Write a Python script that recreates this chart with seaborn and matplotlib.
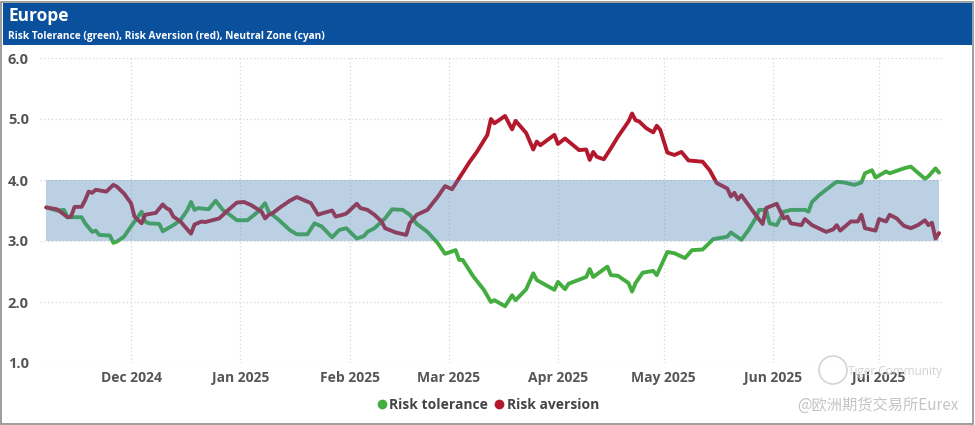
# Europe risk appetite chart: risk tolerance vs risk aversion with neutral zone
import pandas as pd
import numpy as np
import matplotlib
matplotlib.use('Agg')
import matplotlib.pyplot as plt
import matplotlib.dates as mdates
from matplotlib.patches import Rectangle, Circle
from matplotlib.lines import Line2D
import seaborn as sns

# Risk tolerance (green)
tol_dates = ['2024-11-07', '2024-11-10', '2024-11-12', '2024-11-13', '2024-11-17', '2024-11-18',
             '2024-11-20', '2024-11-21', '2024-11-22', '2024-11-25', '2024-11-26', '2024-11-27',
             '2024-11-29', '2024-12-01', '2024-12-03', '2024-12-04', '2024-12-05', '2024-12-06',
             '2024-12-09', '2024-12-10', '2024-12-13', '2024-12-15', '2024-12-17', '2024-12-18',
             '2024-12-19', '2024-12-20', '2024-12-23', '2024-12-25', '2024-12-27', '2024-12-29',
             '2024-12-31', '2025-01-03', '2025-01-06', '2025-01-08', '2025-01-09', '2025-01-12',
             '2025-01-15', '2025-01-17', '2025-01-20', '2025-01-22', '2025-01-24', '2025-01-27',
             '2025-01-29', '2025-01-31', '2025-02-03', '2025-02-05', '2025-02-06', '2025-02-08',
             '2025-02-11', '2025-02-13', '2025-02-16', '2025-02-18', '2025-02-20', '2025-02-23',
             '2025-02-26', '2025-02-28', '2025-03-03', '2025-03-04', '2025-03-05', '2025-03-08',
             '2025-03-11', '2025-03-13', '2025-03-14', '2025-03-17', '2025-03-19', '2025-03-20',
             '2025-03-23', '2025-03-25', '2025-03-26', '2025-03-31', '2025-04-01', '2025-04-03',
             '2025-04-04', '2025-04-09', '2025-04-10', '2025-04-11', '2025-04-15', '2025-04-16',
             '2025-04-18', '2025-04-21', '2025-04-22', '2025-04-23', '2025-04-25', '2025-04-28',
             '2025-04-29', '2025-05-02', '2025-05-04', '2025-05-07', '2025-05-09', '2025-05-12',
             '2025-05-15', '2025-05-19', '2025-05-20', '2025-05-23', '2025-05-25', '2025-05-27',
             '2025-05-28', '2025-05-30', '2025-05-31', '2025-06-02', '2025-06-04', '2025-06-06',
             '2025-06-10', '2025-06-11', '2025-06-12', '2025-06-14', '2025-06-16', '2025-06-18',
             '2025-06-19', '2025-06-21', '2025-06-24', '2025-06-26', '2025-06-27', '2025-06-29',
             '2025-06-30', '2025-07-03', '2025-07-04', '2025-07-08', '2025-07-10', '2025-07-12',
             '2025-07-14', '2025-07-15', '2025-07-17', '2025-07-18']
tol_vals = [3.55, 3.50, 3.51, 3.39, 3.39, 3.29,
            3.15, 3.17, 3.10, 3.09, 2.97, 2.99,
            3.07, 3.24, 3.40, 3.48, 3.32, 3.29,
            3.28, 3.16, 3.26, 3.34, 3.51, 3.64,
            3.51, 3.54, 3.52, 3.66, 3.51, 3.43,
            3.34, 3.34, 3.48, 3.62, 3.48, 3.34,
            3.18, 3.11, 3.11, 3.29, 3.24, 3.06,
            3.18, 3.21, 3.04, 3.08, 3.15, 3.21,
            3.37, 3.52, 3.51, 3.43, 3.28, 3.15,
            2.96, 2.79, 2.85, 2.69, 2.69, 2.42,
            2.20, 2.00, 2.03, 1.93, 2.11, 2.03,
            2.21, 2.47, 2.36, 2.20, 2.33, 2.21,
            2.30, 2.41, 2.54, 2.41, 2.58, 2.44,
            2.43, 2.31, 2.17, 2.31, 2.48, 2.51,
            2.44, 2.82, 2.80, 2.72, 2.85, 2.86,
            3.03, 3.07, 3.14, 3.02, 3.18, 3.37,
            3.51, 3.51, 3.29, 3.26, 3.48, 3.51,
            3.51, 3.48, 3.64, 3.75, 3.84, 3.93,
            3.97, 3.96, 3.92, 3.96, 4.11, 4.16,
            4.04, 4.14, 4.11, 4.19, 4.22, 4.12,
            4.02, 4.06, 4.19, 4.12]

# Risk aversion (red)
avr_dates = ['2024-11-07', '2024-11-10', '2024-11-11', '2024-11-13', '2024-11-14', '2024-11-15',
             '2024-11-17', '2024-11-18', '2024-11-19', '2024-11-20', '2024-11-21', '2024-11-24',
             '2024-11-26', '2024-11-27', '2024-11-29', '2024-12-01', '2024-12-02', '2024-12-04',
             '2024-12-05', '2024-12-08', '2024-12-10', '2024-12-11', '2024-12-12', '2024-12-13',
             '2024-12-15', '2024-12-18', '2024-12-19', '2024-12-21', '2024-12-22', '2024-12-24',
             '2024-12-26', '2024-12-28', '2024-12-31', '2025-01-02', '2025-01-04', '2025-01-07',
             '2025-01-08', '2025-01-09', '2025-01-10', '2025-01-12', '2025-01-15', '2025-01-17',
             '2025-01-19', '2025-01-21', '2025-01-23', '2025-01-24', '2025-01-27', '2025-01-28',
             '2025-01-30', '2025-01-31', '2025-02-03', '2025-02-04', '2025-02-06', '2025-02-08',
             '2025-02-10', '2025-02-11', '2025-02-14', '2025-02-17', '2025-02-18', '2025-02-20',
             '2025-02-23', '2025-02-26', '2025-02-28', '2025-03-02', '2025-03-04', '2025-03-07',
             '2025-03-09', '2025-03-12', '2025-03-13', '2025-03-14', '2025-03-17', '2025-03-19',
             '2025-03-20', '2025-03-23', '2025-03-25', '2025-03-26', '2025-03-27', '2025-03-31',
             '2025-04-01', '2025-04-03', '2025-04-07', '2025-04-09', '2025-04-10', '2025-04-11',
             '2025-04-12', '2025-04-14', '2025-04-16', '2025-04-18', '2025-04-21', '2025-04-22',
             '2025-04-23', '2025-04-24', '2025-04-26', '2025-04-28', '2025-04-29', '2025-04-30',
             '2025-05-02', '2025-05-04', '2025-05-06', '2025-05-08', '2025-05-12', '2025-05-14',
             '2025-05-16', '2025-05-19', '2025-05-20', '2025-05-21', '2025-05-22', '2025-05-23',
             '2025-05-25', '2025-05-27', '2025-05-29', '2025-05-30', '2025-06-02', '2025-06-04',
             '2025-06-05', '2025-06-06', '2025-06-09', '2025-06-10', '2025-06-12', '2025-06-16',
             '2025-06-18', '2025-06-19', '2025-06-20', '2025-06-23', '2025-06-25', '2025-06-26',
             '2025-06-27', '2025-06-30', '2025-07-01', '2025-07-03', '2025-07-04', '2025-07-06',
             '2025-07-08', '2025-07-10', '2025-07-12', '2025-07-14', '2025-07-15', '2025-07-16',
             '2025-07-17', '2025-07-18']
avr_vals = [3.55, 3.52, 3.48, 3.39, 3.40, 3.56,
            3.56, 3.67, 3.81, 3.79, 3.84, 3.81,
            3.92, 3.89, 3.78, 3.62, 3.40, 3.29,
            3.43, 3.46, 3.60, 3.54, 3.51, 3.40,
            3.32, 3.12, 3.27, 3.32, 3.31, 3.34,
            3.37, 3.48, 3.63, 3.64, 3.59, 3.48,
            3.37, 3.43, 3.45, 3.54, 3.66, 3.72,
            3.67, 3.62, 3.43, 3.45, 3.50, 3.40,
            3.43, 3.45, 3.61, 3.54, 3.51, 3.43,
            3.32, 3.21, 3.14, 3.10, 3.29, 3.43,
            3.51, 3.73, 3.90, 3.85, 4.03, 4.30,
            4.46, 4.74, 5.00, 4.93, 5.05, 4.83,
            4.97, 4.77, 4.50, 4.63, 4.57, 4.74,
            4.59, 4.68, 4.49, 4.50, 4.33, 4.46,
            4.38, 4.34, 4.52, 4.71, 4.96, 5.09,
            4.98, 4.96, 4.85, 4.78, 4.89, 4.82,
            4.45, 4.41, 4.46, 4.32, 4.30, 4.16,
            3.95, 3.86, 3.73, 3.79, 3.68, 3.75,
            3.59, 3.43, 3.28, 3.54, 3.61, 3.37,
            3.40, 3.29, 3.26, 3.36, 3.26, 3.15,
            3.19, 3.26, 3.17, 3.32, 3.32, 3.43,
            3.21, 3.17, 3.36, 3.32, 3.43, 3.37,
            3.25, 3.21, 3.26, 3.34, 3.26, 3.30,
            3.04, 3.13]

# Neutral zone
zone_low, zone_high = 3.0, 4.0
y_ticks = [1.0, 2.0, 3.0, 4.0, 5.0, 6.0]

green = '#43ad3f'
red = '#b3182c'
label_col = '#555555'

df_tol = pd.DataFrame({'date': pd.to_datetime(tol_dates), 'value': tol_vals})
df_avr = pd.DataFrame({'date': pd.to_datetime(avr_dates), 'value': avr_vals})

sns.set_style('white')
plt.rcParams['font.family'] = ['Open Sans', 'DejaVu Sans']

fig = plt.figure(figsize=(9.75, 4.25), dpi=100)
ax = fig.add_axes([40 / 975, 1 - 363 / 425, 903 / 975, 305 / 425])

sns.lineplot(data=df_tol, x='date', y='value', ax=ax, color=green, linewidth=2.8,
             estimator=None, zorder=2)
sns.lineplot(data=df_avr, x='date', y='value', ax=ax, color=red, linewidth=2.8,
             estimator=None, zorder=2)

# neutral zone drawn over the lines, semi transparent
start = min(df_tol['date'].min(), df_avr['date'].min())
end = max(df_tol['date'].max(), df_avr['date'].max())
ax.fill_between([start, end], zone_low, zone_high, color='#4a82b4', alpha=0.37,
                linewidth=0, zorder=3)

ax.set_ylim(1.0, 6.0)
ax.set_xlim(pd.Timestamp('2024-11-05 05:00'), pd.Timestamp('2025-07-19 03:00'))
ax.set_yticks(y_ticks)
ax.yaxis.set_major_formatter(matplotlib.ticker.FormatStrFormatter('%.1f'))
ax.xaxis.set_major_locator(mdates.MonthLocator())
ax.xaxis.set_major_formatter(mdates.DateFormatter('%b %Y'))
ax.set_xlabel('')
ax.set_ylabel('')
ax.grid(True, linestyle=(0, (1, 2)), color='#d6d6d6', linewidth=0.9)
ax.set_axisbelow(True)
for s in ax.spines.values():
    s.set_visible(False)
ax.tick_params(axis='both', length=0, colors=label_col)
ax.tick_params(axis='x', pad=6)
ax.tick_params(axis='y', pad=8)
for lab in ax.get_xticklabels():
    lab.set_fontsize(10)
    lab.set_fontweight('bold')
for lab in ax.get_yticklabels():
    lab.set_fontsize(10.5)
    lab.set_fontweight('bold')

# header bar and outer frame
fig.patches.append(Rectangle((1 / 975, 1 / 425), 972 / 975, 422 / 425, transform=fig.transFigure,
                             fill=False, edgecolor='#8c8c8c', linewidth=1.2))
fig.patches.append(Rectangle((3 / 975, 1 - 45 / 425), 969 / 975, 42 / 425, transform=fig.transFigure,
                             facecolor='#0b509d', edgecolor='none'))
fig.text(8 / 975, 1 - 16 / 425, 'Europe', color='white', fontsize=12.5, fontweight='bold',
         va='center', ha='left')
fig.text(8 / 975, 1 - 37 / 425, 'Risk Tolerance (green), Risk Aversion (red), Neutral Zone (cyan)',
         color='white', fontsize=7.3, fontweight='bold', va='center', ha='left')

# legend
handles = [Line2D([], [], marker='o', linestyle='', color=green, markersize=6),
           Line2D([], [], marker='o', linestyle='', color=red, markersize=6)]
leg = fig.legend(handles, ['Risk tolerance', 'Risk aversion'], loc='center',
                 bbox_to_anchor=(487 / 975, 1 - 405 / 425), ncol=2, frameon=False,
                 handletextpad=0.05, columnspacing=0.3, handlelength=1.0,
                 prop={'weight': 'bold', 'size': 10})
for t in leg.get_texts():
    t.set_color('#444444')

# watermark
fig.patches.append(Circle((8.33, 0.55), 0.14, transform=fig.dpi_scale_trans, fill=False,
                          edgecolor='#d4d4d4', linewidth=1.2))
fig.text(848 / 975, 1 - 372 / 425, 'Tiger Community', color='#d2d2d2', fontsize=8.5,
         va='center', ha='left')
fig.text(958 / 975, 1 - 405 / 425, '@欧洲期货交易所Eurex', color='#c4c4c4', fontsize=11,
         va='center', ha='right', family=['Noto Sans CJK SC', 'DejaVu Sans'])

fig.savefig('out.png', dpi=100)
